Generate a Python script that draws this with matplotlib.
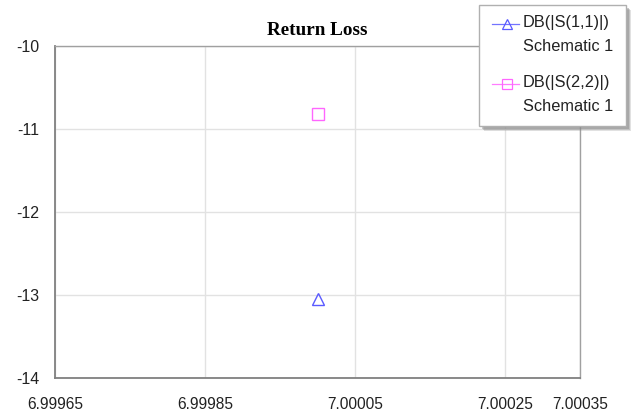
import matplotlib
matplotlib.use("Agg")
import matplotlib.pyplot as plt
from matplotlib.lines import Line2D
from matplotlib.patches import Rectangle

# Frequency sweep (GHz) and return loss results (dB)
freq = [7.0]
s11_db = [-13.05]
s22_db = [-10.82]

x_ticks = [6.99965, 6.99985, 7.00005, 7.00025, 7.00035]
x_tick_labels = ["6.99965", "6.99985", "7.00005", "7.00025", "7.00035"]
y_ticks = [-14, -13, -12, -11, -10]
y_tick_labels = ["-14", "-13", "-12", "-11", "-10"]

series_labels = ["DB(|S(1,1)|)", "DB(|S(2,2)|)"]
source_label = "Schematic 1"

blue = "#5a5aff"
magenta = "#ff66ff"

plt.rcParams["font.family"] = ["Liberation Sans", "DejaVu Sans"]

fig = plt.figure(figsize=(6.37, 4.15), dpi=100)
ax = fig.add_axes([55 / 637, 1 - 378 / 415, (580 - 55) / 637, (378 - 46) / 415])

ax.plot(freq, s11_db, linestyle="none", marker="^", markersize=8,
        markerfacecolor="none", markeredgecolor=blue, markeredgewidth=1.0)
ax.plot(freq, s22_db, linestyle="none", marker="s", markersize=8,
        markerfacecolor="none", markeredgecolor=magenta, markeredgewidth=1.0)

ax.set_xlim(6.99965, 7.00035)
ax.set_ylim(-14, -10)
ax.set_xticks(x_ticks)
ax.set_xticklabels(x_tick_labels, fontsize=11.2)
ax.set_yticks(y_ticks)
ax.set_yticklabels(y_tick_labels, fontsize=11.5)
ax.tick_params(length=0, colors="#222222")
ax.tick_params(axis="y", pad=11.5)
ax.tick_params(axis="x", pad=14)
ax.grid(True, color="#e2e2e2", linewidth=1.0)
ax.set_axisbelow(True)
for side in ["left", "bottom"]:
    ax.spines[side].set_color("#808080")
    ax.spines[side].set_linewidth(1.3)
for side in ["top", "right"]:
    ax.spines[side].set_color("#a0a0a0")
    ax.spines[side].set_linewidth(1.0)

ax.set_title("Return Loss", fontsize=13.8, fontweight="bold",
             family=["Liberation Serif", "DejaVu Serif"], pad=8)

# Legend box with soft drop shadow, placed in pixel-based figure coordinates
W, H = 637.0, 415.0
def fx(px):
    return px / W
def fy(py):
    return 1 - py / H

bx0, bx1, by0, by1 = 479, 626, 5, 126
for off, alpha in [(5, 0.25), (4, 0.35), (3, 0.45)]:
    sh = Rectangle((fx(bx0 + off), fy(by1 + off)), fx(bx1) - fx(bx0),
                   fy(by0) - fy(by1), transform=fig.transFigure,
                   facecolor="#8a8a8a", edgecolor="none", alpha=alpha, zorder=9)
    fig.patches.append(sh)
box = Rectangle((fx(bx0), fy(by1)), fx(bx1) - fx(bx0), fy(by0) - fy(by1),
                transform=fig.transFigure, facecolor="white",
                edgecolor="#b0b0b0", linewidth=1.0, zorder=10)
fig.patches.append(box)

entries = [(blue, "^", 22), (magenta, "s", 82)]
for (col, mk, ty), lab in zip(entries, series_labels):
    ln = Line2D([fx(492), fx(519)], [fy(ty + 2.5), fy(ty + 2.5)],
                transform=fig.transFigure, color=col, linewidth=0.9,
                alpha=0.85, zorder=11)
    fig.lines.append(ln)
    mkr = Line2D([fx(506.5)], [fy(ty + 2.5)], transform=fig.transFigure,
                 linestyle="none", marker=mk, markersize=6.5,
                 markerfacecolor="none", markeredgecolor=col,
                 markeredgewidth=0.9, zorder=12)
    fig.lines.append(mkr)
    fig.text(fx(523), fy(ty), lab, fontsize=11.8, color="#222222",
             ha="left", va="center", zorder=12)
    fig.text(fx(523), fy(ty + 24.5), source_label, fontsize=11.8,
             color="#222222", ha="left", va="center", zorder=12)

fig.savefig("out.png", dpi=100)
